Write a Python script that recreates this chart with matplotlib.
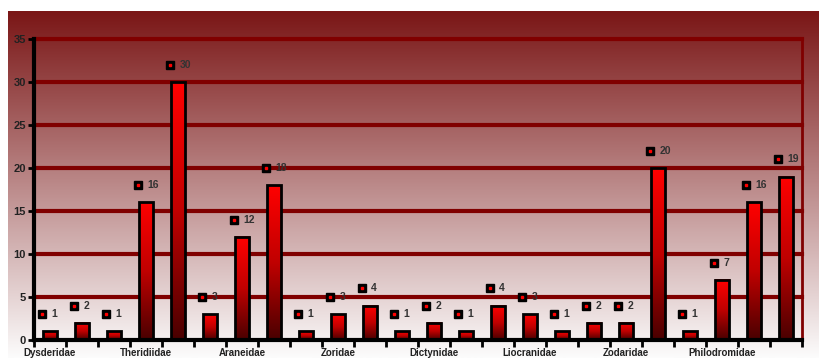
import numpy as np
import matplotlib
matplotlib.use("Agg")
import matplotlib.pyplot as plt
from matplotlib.colors import LinearSegmentedColormap

# valeurs (24 familles, une étiquette sur trois)
valeurs = [1, 2, 1, 16, 30, 3, 12, 18, 1, 3, 4, 1,
           2, 1, 4, 3, 1, 2, 2, 20, 1, 7, 16, 19]
etiquettes = ["Dysderidae", "Theridiidae", "Araneidae", "Zoridae",
              "Dictynidae", "Liocranidae", "Zodaridae", "Philodromidae"]
pos_etiquettes = [0, 3, 6, 9, 12, 15, 18, 21]
graduations_y = [0, 5, 10, 15, 20, 25, 30, 35]

plt.rcParams['font.family'] = ['Liberation Sans', 'DejaVu Sans']

fig = plt.figure(figsize=(8.2, 3.58), dpi=100)
fig.patch.set_facecolor("white")

################################ Fond en dégradé
fond = fig.add_axes([8 / 820, 0, 812 / 820, 347 / 358], zorder=0)
haut = np.array([122, 22, 22]) / 255
bas = np.array([252, 252, 252]) / 255
t = np.linspace(0, 1, 256)[:, None]
degrade = haut[None, :] * (1 - t) + bas[None, :] * t
fond.imshow(degrade[:, None, :], aspect="auto", extent=(0, 1, 0, 1))
fond.axis("off")

################################ Axe principal
ax = fig.add_axes([34 / 820, 18 / 358, 768 / 820, 301 / 358], zorder=1)
ax.patch.set_alpha(0)
ax.set_xlim(-0.5, len(valeurs) - 0.5)
ax.set_ylim(0, 35)

# lignes de grille rouge foncé
for y in graduations_y[1:]:
    ax.axhline(y, color="#800000", lw=3, zorder=1, clip_on=False)

# barres en dégradé rouge -> rouge sombre
cmap_barre = LinearSegmentedColormap.from_list("barre", ["#4a0000", "#c00000", "#ff0000"])
largeur = 0.44
grad = np.linspace(0, 1, 200)[:, None]
for i, v in enumerate(valeurs):
    ax.imshow(grad, cmap=cmap_barre, aspect="auto", origin="lower",
              extent=(i - largeur / 2, i + largeur / 2, 0, v), zorder=2)
ax.bar(range(len(valeurs)), valeurs, width=largeur, facecolor="none",
       edgecolor="black", lw=2, zorder=3)

# étiquettes de données avec marqueur
for i, v in enumerate(valeurs):
    ax.plot(i - 0.25, v + 2, marker="s", ms=6, mfc="black", mec="black", zorder=4)
    ax.plot(i - 0.25, v + 2, marker="s", ms=1.5, mfc="red", mec="red", zorder=5)
    ax.text(i + 0.04, v + 2, str(v), fontsize=7.5, fontweight="bold",
            color="#333333", va="center", ha="left", zorder=5)

# axes
ax.set_yticks(graduations_y)
ax.set_yticklabels([str(g) for g in graduations_y], fontsize=8, fontweight="bold", color="#222222")
ax.tick_params(axis="y", length=4, width=2, color="black", pad=2)

ax.set_xticks(pos_etiquettes)
ax.set_xticklabels(etiquettes, fontsize=7, fontweight="bold", color="#222222")
ax.set_xticks(np.arange(-0.5, len(valeurs)), minor=True)
ax.tick_params(axis="x", which="major", length=0, pad=6)
ax.tick_params(axis="x", which="minor", length=5, width=2, color="black")

ax.spines["top"].set_visible(False)
ax.spines["left"].set_linewidth(3)
ax.spines["left"].set_color("black")
ax.spines["bottom"].set_linewidth(3)
ax.spines["bottom"].set_color("black")
ax.spines["right"].set_linewidth(2)
ax.spines["right"].set_color("#800000")
for s in ax.spines.values():
    s.set_zorder(6)

fig.savefig("out.png", dpi=100, facecolor="white")
